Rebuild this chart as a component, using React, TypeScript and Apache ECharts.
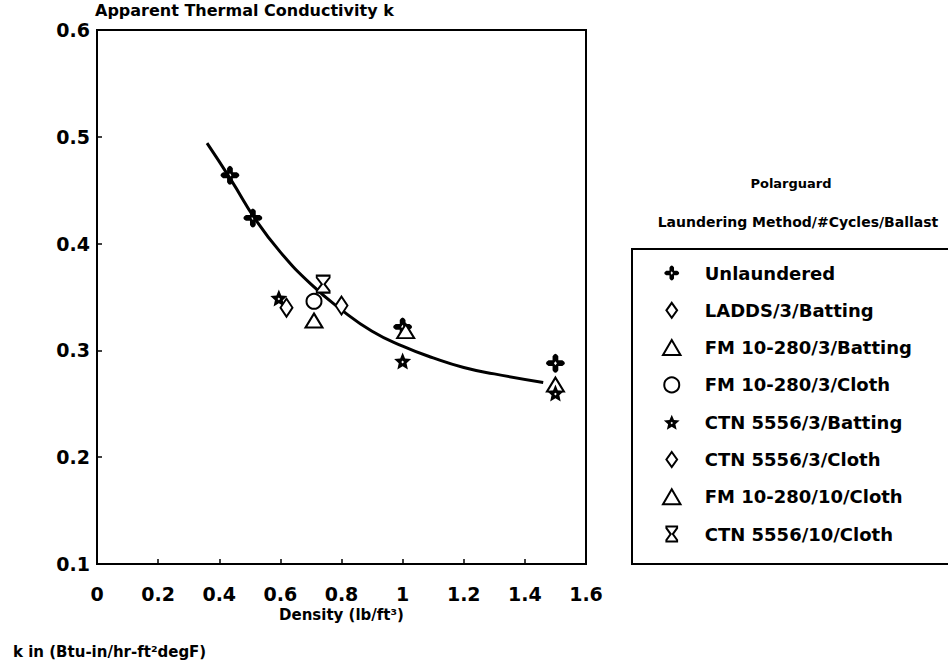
import React, { useEffect, useRef } from "react";
import * as echarts from "echarts";

// ---- Data ----
const xTicks = [0, 0.2, 0.4, 0.6, 0.8, 1, 1.2, 1.4, 1.6];
const yTicks = [0.1, 0.2, 0.3, 0.4, 0.5, 0.6];

const fitX = [0.36, 0.44, 0.52, 0.6, 0.7, 0.8, 0.9, 1.0, 1.1, 1.2, 1.3, 1.46];
const fitY = [0.494, 0.459, 0.422, 0.392, 0.362, 0.338, 0.318, 0.304, 0.293, 0.284, 0.278, 0.27];

const unlaunderedX = [0.435, 0.51, 1.0, 1.5];
const unlaunderedY = [0.464, 0.424, 0.322, 0.288];
const laddsBattingX = [0.8];
const laddsBattingY = [0.342];
const fm3BattingX = [0.71, 1.5];
const fm3BattingY = [0.328, 0.268];
const fm3ClothX = [0.71];
const fm3ClothY = [0.346];
const ctn3BattingX = [0.595, 1.0, 1.5];
const ctn3BattingY = [0.349, 0.29, 0.26];
const ctn3ClothX = [0.62];
const ctn3ClothY = [0.34];
const fm10ClothX = [1.01];
const fm10ClothY = [0.318];
const ctn10ClothX = [0.74];
const ctn10ClothY = [0.362];

const seriesNames = [
  "Unlaundered",
  "LADDS/3/Batting",
  "FM 10-280/3/Batting",
  "FM 10-280/3/Cloth",
  "CTN 5556/3/Batting",
  "CTN 5556/3/Cloth",
  "FM 10-280/10/Cloth",
  "CTN 5556/10/Cloth",
];

// ---- Symbols ----
const CROSS =
  "path://M-2.5,-2.5L-2.5,-6Q0,-10.5 2.5,-6L2.5,-2.5L6,-2.5Q10.5,0 6,2.5L2.5,2.5L2.5,6Q0,10.5 -2.5,6L-2.5,2.5L-6,2.5Q-10.5,0 -6,-2.5ZM0,-1.8L-1.3,0L0,1.8L1.3,0Z";
const STAR =
  "path://M0,-10L2.7,-3.72L9.51,-3.09L4.37,1.42L5.88,8.09L0,4.6L-5.88,8.09L-4.37,1.42L-9.51,-3.09L-2.7,-3.72ZM0,-1.5L-1.5,0L0,1.5L1.5,0Z";
const DIAMOND = "path://M0,-7L5,0L0,7L-5,0Z";
const TRIANGLE = "path://M0,-6L7,6L-7,6Z";
const HOURGLASS =
  "path://M-5,-7L5,-7L5,-5.5L1,0L5,5.5L5,7L-5,7L-5,5.5L-1,0L-5,-5.5Z";

const zip = (xs: number[], ys: number[]) => xs.map((x, i) => [x, ys[i]]);

const FONT = "DejaVu Sans";

export default function App() {
  const ref = useRef<HTMLDivElement>(null);

  useEffect(() => {
    if (!ref.current) return;
    const chart = echarts.init(ref.current, undefined, { renderer: "svg" });

    const open = { color: "#fff", borderColor: "#000", borderWidth: 2, opacity: 1 };
    const filled = { color: "#000", borderColor: "#000", borderWidth: 0, opacity: 1 };

    const scatter = (
      name: string,
      xs: number[],
      ys: number[],
      symbol: string,
      size: any,
      style: any
    ) => ({
      name,
      type: "scatter",
      data: zip(xs, ys),
      symbol,
      symbolSize: size,
      itemStyle: style,
      z: 3,
    });

    chart.setOption({
      animation: false,
      backgroundColor: "#fff",
      title: {
        text: "Apparent Thermal Conductivity k",
        left: 95,
        top: 2,
        padding: 0,
        textStyle: { fontFamily: FONT, fontWeight: "bold", fontSize: 16, color: "#000" },
      },
      grid: {
        left: 97,
        right: 362,
        top: 30,
        bottom: 103,
        show: true,
        borderColor: "#000",
        borderWidth: 2,
        backgroundColor: "transparent",
      },
      xAxis: {
        type: "value",
        min: xTicks[0],
        max: xTicks[xTicks.length - 1],
        interval: 0.2,
        name: "Density (lb/ft³)",
        nameLocation: "middle",
        nameGap: 36,
        nameTextStyle: { fontFamily: FONT, fontWeight: "bold", fontSize: 15, color: "#000" },
        axisLine: { show: true, lineStyle: { color: "#000", width: 2 } },
        axisTick: { show: true, inside: true, length: 5, lineStyle: { color: "#000", width: 1.5 } },
        axisLabel: {
          margin: 20,
          fontFamily: FONT,
          fontWeight: "bold",
          fontSize: 19,
          color: "#000",
        },
        splitLine: { show: false },
      },
      yAxis: {
        type: "value",
        min: yTicks[0],
        max: yTicks[yTicks.length - 1],
        interval: 0.1,
        axisLine: { show: true, lineStyle: { color: "#000", width: 2 } },
        axisTick: { show: true, inside: true, length: 5, lineStyle: { color: "#000", width: 1.5 } },
        axisLabel: {
          margin: 7,
          fontFamily: FONT,
          fontWeight: "bold",
          fontSize: 19,
          color: "#000",
        },
        splitLine: { show: false },
      },
      legend: {
        data: seriesNames,
        orient: "vertical",
        left: 657,
        top: 258,
        itemWidth: 22,
        itemHeight: 15,
        itemGap: 17.3,
        selectedMode: false,
        textStyle: {
          fontFamily: FONT,
          fontWeight: "bold",
          fontSize: 18,
          lineHeight: 20,
          color: "#000",
          padding: [0, 0, 0, 17],
        },
      },
      graphic: [
        {
          type: "rect",
          shape: { x: 632, y: 249, width: 330, height: 315 },
          style: { fill: "none", stroke: "#000", lineWidth: 2 },
          silent: true,
        },
        {
          type: "text",
          x: 791,
          y: 183,
          style: {
            text: "Polarguard",
            fontFamily: FONT,
            fontWeight: "bold",
            fontSize: 13,
            fill: "#000",
            align: "center",
            verticalAlign: "middle",
          },
        },
        {
          type: "text",
          x: 798,
          y: 222,
          style: {
            text: "Laundering Method/#Cycles/Ballast",
            fontFamily: FONT,
            fontWeight: "bold",
            fontSize: 14,
            fill: "#000",
            align: "center",
            verticalAlign: "middle",
          },
        },
        {
          type: "text",
          x: 13,
          y: 652,
          style: {
            text: "k in (Btu-in/hr-ft²degF)",
            fontFamily: FONT,
            fontWeight: "bold",
            fontSize: 15,
            fill: "#000",
            align: "left",
            verticalAlign: "middle",
          },
        },
      ],
      series: [
        {
          name: "fit",
          type: "line",
          data: zip(fitX, fitY),
          smooth: true,
          symbol: "none",
          lineStyle: { color: "#000", width: 3 },
          z: 1,
          silent: true,
        },
        scatter(seriesNames[0], unlaunderedX, unlaunderedY, CROSS, 19, filled),
        scatter(seriesNames[1], laddsBattingX, laddsBattingY, DIAMOND, [12, 18], open),
        scatter(seriesNames[2], fm3BattingX, fm3BattingY, TRIANGLE, [17, 14], open),
        scatter(seriesNames[3], fm3ClothX, fm3ClothY, "circle", 15, open),
        scatter(seriesNames[4], ctn3BattingX, ctn3BattingY, STAR, 17, filled),
        scatter(seriesNames[5], ctn3ClothX, ctn3ClothY, DIAMOND, [12, 18], open),
        scatter(seriesNames[6], fm10ClothX, fm10ClothY, TRIANGLE, [17, 14], open),
        scatter(seriesNames[7], ctn10ClothX, ctn10ClothY, HOURGLASS, [13, 17], open),
      ],
    });

    return () => chart.dispose();
  }, []);

  return <div ref={ref} style={{ width: 948, height: 667, position: "absolute", left: 0, top: 0 }} />;
}
